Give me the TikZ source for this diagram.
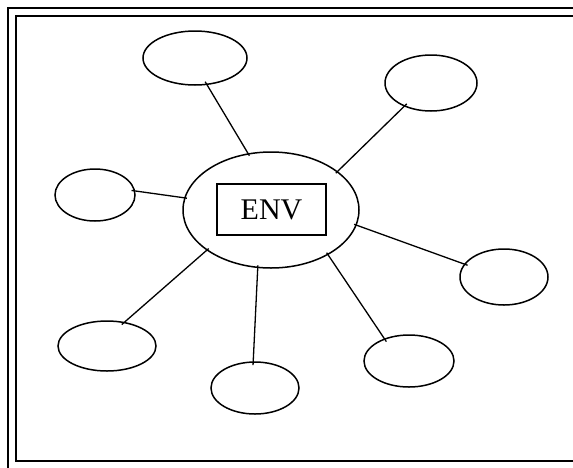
\documentclass[tikz,border=0pt]{standalone}
\usepackage{fontspec}
\setmainfont{Liberation Serif}
\usetikzlibrary{shapes.geometric}
\begin{document}
\begin{tikzpicture}[x=1pt,y=-1pt,
  frameline/.style={line width=2pt},
  bubble/.style={draw, ellipse, line width=1.5pt, inner sep=0pt, outer sep=0pt},
  spoke/.style={line width=1.3pt, shorten <=-3pt, shorten >=-2pt}]
\useasboundingbox (0,0) rectangle (573,467);
% double frame, open towards the right and bottom edges
\draw[frameline] (590,8) -- (8,8) -- (8,490);
\draw[frameline] (590,16) -- (16,16) -- (16,461) -- (590,461);
% centre
\node[bubble, minimum width=176pt, minimum height=116pt] (env) at (271,210) {};
\node[draw, line width=1.4pt, minimum width=109pt, minimum height=51pt, inner sep=0pt,
      font=\fontsize{30}{30}\selectfont] (lbl) at (271.5,209.5) {ENV};
% satellites
\node[bubble, minimum width=104pt, minimum height=54pt] (s1) at (195,58) {};
\node[bubble, minimum width=92pt, minimum height=56pt] (s2) at (431,83) {};
\node[bubble, minimum width=80pt, minimum height=52pt] (s3) at (95,195) {};
\node[bubble, minimum width=88pt, minimum height=56pt] (s4) at (504,277) {};
\node[bubble, minimum width=90pt, minimum height=52pt] (s5) at (409,361) {};
\node[bubble, minimum width=88pt, minimum height=52pt] (s6) at (255,388) {};
\node[bubble, minimum width=98pt, minimum height=50pt] (s7) at (107,346) {};
% spokes
\draw[spoke] (s1.-66) -- (env.112);
\draw[spoke] (s2.221) -- (env.30);
\draw[spoke] (s3.6) -- (env.172);
\draw[spoke] (s4.162) -- (env.-10);
\draw[spoke] (s5.138) -- (env.-38);
\draw[spoke] (s6.94) -- (env.-103);
\draw[spoke] (s7.54) -- (env.212);
\end{tikzpicture}
\end{document}
